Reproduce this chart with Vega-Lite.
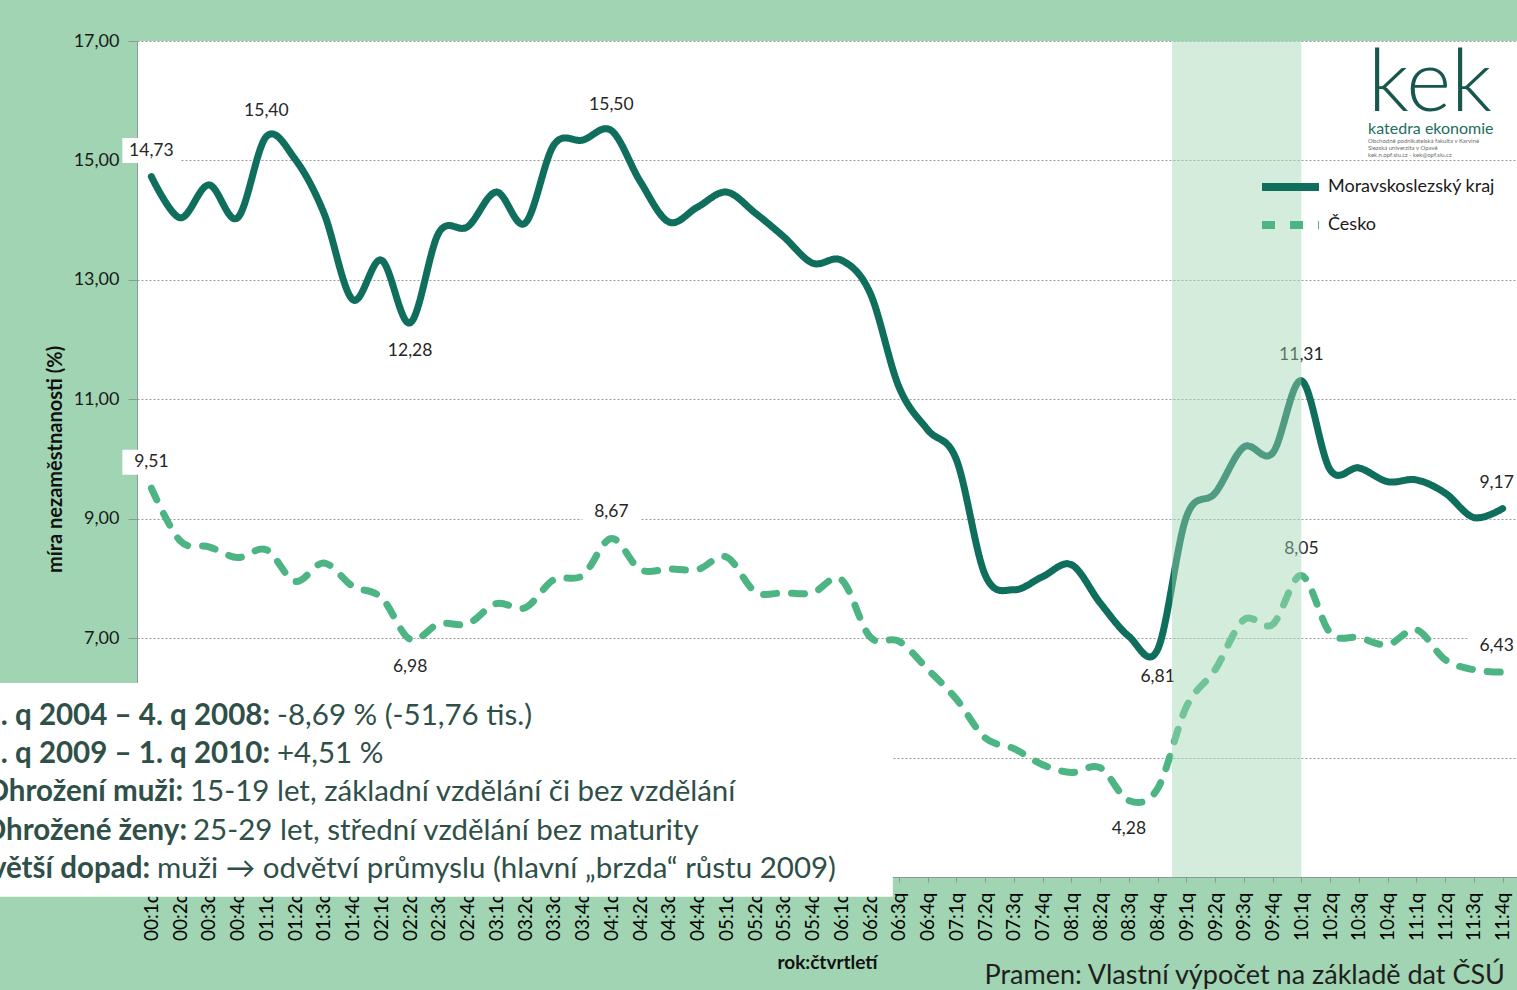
{
  "$schema": "https://vega.github.io/schema/vega-lite/v6.json",
  "width": 1380,
  "height": 836,
  "autosize": {"type": "none"},
  "padding": {"left": 137, "top": 41, "right": 0, "bottom": 113},
  "background": "#a0d4b2",
  "config": {
    "font": "Lato",
    "locale": {"number": {"decimal": ",", "thousands": " ", "grouping": [3], "currency": ["", " Kč"]}},
    "view": {"fill": "white", "stroke": null},
    "axis": {"zindex": 0},
    "axisX": {"labelOverlap": false, "labelSeparation": 0, "tickCount": 48},
    "legend": {"orient": "none", "legendX": 1121, "legendY": 136, "title": null, "symbolType": "stroke", "symbolSize": 3249, "symbolStrokeWidth": 8, "labelFontSize": 18, "labelColor": "#1a1a1a", "labelOffset": 5, "clipHeight": 20, "rowPadding": 18, "padding": 0, "labelLimit": 300}
  },
  "datasets": {
    "unemp": [
      {"i": 0, "series": "Moravskoslezský kraj", "rate": 14.73},
      {"i": 1, "series": "Moravskoslezský kraj", "rate": 14.04},
      {"i": 2, "series": "Moravskoslezský kraj", "rate": 14.59},
      {"i": 3, "series": "Moravskoslezský kraj", "rate": 14.04},
      {"i": 4, "series": "Moravskoslezský kraj", "rate": 15.40},
      {"i": 5, "series": "Moravskoslezský kraj", "rate": 15.02},
      {"i": 6, "series": "Moravskoslezský kraj", "rate": 14.12},
      {"i": 7, "series": "Moravskoslezský kraj", "rate": 12.67},
      {"i": 8, "series": "Moravskoslezský kraj", "rate": 13.33},
      {"i": 9, "series": "Moravskoslezský kraj", "rate": 12.28},
      {"i": 10, "series": "Moravskoslezský kraj", "rate": 13.79},
      {"i": 11, "series": "Moravskoslezský kraj", "rate": 13.89},
      {"i": 12, "series": "Moravskoslezský kraj", "rate": 14.47},
      {"i": 13, "series": "Moravskoslezský kraj", "rate": 13.95},
      {"i": 14, "series": "Moravskoslezský kraj", "rate": 15.26},
      {"i": 15, "series": "Moravskoslezský kraj", "rate": 15.34},
      {"i": 16, "series": "Moravskoslezský kraj", "rate": 15.50},
      {"i": 17, "series": "Moravskoslezský kraj", "rate": 14.65},
      {"i": 18, "series": "Moravskoslezský kraj", "rate": 13.97},
      {"i": 19, "series": "Moravskoslezský kraj", "rate": 14.22},
      {"i": 20, "series": "Moravskoslezský kraj", "rate": 14.47},
      {"i": 21, "series": "Moravskoslezský kraj", "rate": 14.12},
      {"i": 22, "series": "Moravskoslezský kraj", "rate": 13.72},
      {"i": 23, "series": "Moravskoslezský kraj", "rate": 13.28},
      {"i": 24, "series": "Moravskoslezský kraj", "rate": 13.33},
      {"i": 25, "series": "Moravskoslezský kraj", "rate": 12.78},
      {"i": 26, "series": "Moravskoslezský kraj", "rate": 11.21},
      {"i": 27, "series": "Moravskoslezský kraj", "rate": 10.49},
      {"i": 28, "series": "Moravskoslezský kraj", "rate": 9.99},
      {"i": 29, "series": "Moravskoslezský kraj", "rate": 8.06},
      {"i": 30, "series": "Moravskoslezský kraj", "rate": 7.81},
      {"i": 31, "series": "Moravskoslezský kraj", "rate": 8.03},
      {"i": 32, "series": "Moravskoslezský kraj", "rate": 8.23},
      {"i": 33, "series": "Moravskoslezský kraj", "rate": 7.59},
      {"i": 34, "series": "Moravskoslezský kraj", "rate": 7.03},
      {"i": 35, "series": "Moravskoslezský kraj", "rate": 6.81},
      {"i": 36, "series": "Moravskoslezský kraj", "rate": 9.03},
      {"i": 37, "series": "Moravskoslezský kraj", "rate": 9.43},
      {"i": 38, "series": "Moravskoslezský kraj", "rate": 10.20},
      {"i": 39, "series": "Moravskoslezský kraj", "rate": 10.10},
      {"i": 40, "series": "Moravskoslezský kraj", "rate": 11.31},
      {"i": 41, "series": "Moravskoslezský kraj", "rate": 9.82},
      {"i": 42, "series": "Moravskoslezský kraj", "rate": 9.85},
      {"i": 43, "series": "Moravskoslezský kraj", "rate": 9.62},
      {"i": 44, "series": "Moravskoslezský kraj", "rate": 9.65},
      {"i": 45, "series": "Moravskoslezský kraj", "rate": 9.43},
      {"i": 46, "series": "Moravskoslezský kraj", "rate": 9.02},
      {"i": 47, "series": "Moravskoslezský kraj", "rate": 9.17},
      {"i": 0, "series": "Česko", "rate": 9.51},
      {"i": 1, "series": "Česko", "rate": 8.63},
      {"i": 2, "series": "Česko", "rate": 8.53},
      {"i": 3, "series": "Česko", "rate": 8.35},
      {"i": 4, "series": "Česko", "rate": 8.48},
      {"i": 5, "series": "Česko", "rate": 7.95},
      {"i": 6, "series": "Česko", "rate": 8.26},
      {"i": 7, "series": "Česko", "rate": 7.87},
      {"i": 8, "series": "Česko", "rate": 7.68},
      {"i": 9, "series": "Česko", "rate": 6.98},
      {"i": 10, "series": "Česko", "rate": 7.24},
      {"i": 11, "series": "Česko", "rate": 7.24},
      {"i": 12, "series": "Česko", "rate": 7.58},
      {"i": 13, "series": "Česko", "rate": 7.51},
      {"i": 14, "series": "Česko", "rate": 7.98},
      {"i": 15, "series": "Česko", "rate": 8.05},
      {"i": 16, "series": "Česko", "rate": 8.67},
      {"i": 17, "series": "Česko", "rate": 8.15},
      {"i": 18, "series": "Česko", "rate": 8.16},
      {"i": 19, "series": "Česko", "rate": 8.15},
      {"i": 20, "series": "Česko", "rate": 8.36},
      {"i": 21, "series": "Česko", "rate": 7.78},
      {"i": 22, "series": "Česko", "rate": 7.76},
      {"i": 23, "series": "Česko", "rate": 7.76},
      {"i": 24, "series": "Česko", "rate": 7.98},
      {"i": 25, "series": "Česko", "rate": 7.02},
      {"i": 26, "series": "Česko", "rate": 6.95},
      {"i": 27, "series": "Česko", "rate": 6.48},
      {"i": 28, "series": "Česko", "rate": 5.98},
      {"i": 29, "series": "Česko", "rate": 5.33},
      {"i": 30, "series": "Česko", "rate": 5.15},
      {"i": 31, "series": "Česko", "rate": 4.88},
      {"i": 32, "series": "Česko", "rate": 4.75},
      {"i": 33, "series": "Česko", "rate": 4.83},
      {"i": 34, "series": "Česko", "rate": 4.28},
      {"i": 35, "series": "Česko", "rate": 4.48},
      {"i": 36, "series": "Česko", "rate": 5.85},
      {"i": 37, "series": "Česko", "rate": 6.47},
      {"i": 38, "series": "Česko", "rate": 7.31},
      {"i": 39, "series": "Česko", "rate": 7.23},
      {"i": 40, "series": "Česko", "rate": 8.05},
      {"i": 41, "series": "Česko", "rate": 7.09},
      {"i": 42, "series": "Česko", "rate": 7.01},
      {"i": 43, "series": "Česko", "rate": 6.89},
      {"i": 44, "series": "Česko", "rate": 7.14},
      {"i": 45, "series": "Česko", "rate": 6.64},
      {"i": 46, "series": "Česko", "rate": 6.47},
      {"i": 47, "series": "Česko", "rate": 6.43}
    ],
    "notes": [
      {"bold": "1. q 2004 – 4. q 2008:", "rest": "-8,69 % (-51,76 tis.)", "xb": 4.126, "xr": 4.37, "y": 5.703},
      {"bold": "1. q 2009 – 1. q 2010:", "rest": "+4,51 %", "xb": 4.126, "xr": 4.37, "y": 5.067},
      {"bold": "Ohrožení muži:", "rest": "15-19 let, základní vzdělání či bez vzdělání", "xb": 1.1, "xr": 1.343, "y": 4.431},
      {"bold": "Ohrožené ženy:", "rest": "25-29 let, střední vzdělání bez maturity", "xb": 1.239, "xr": 1.448, "y": 3.778},
      {"bold": "Největší dopad:", "rest": "muži → odvětví průmyslu (hlavní „brzda“ růstu 2009)", "xb": -0.048, "xr": 0.196, "y": 3.142}
    ]
  },
  "data": {"name": "unemp"},
  "layer": [
    {
      "mark": {"type": "line", "strokeWidth": 7, "strokeCap": "round", "strokeJoin": "round", "interpolate": "cardinal"},
      "encoding": {
        "x": {
          "field": "i", "type": "quantitative",
          "scale": {"domain": [-0.5, 47.5], "nice": false, "zero": false},
          "axis": {
            "values": [0,1,2,3,4,5,6,7,8,9,10,11,12,13,14,15,16,17,18,19,20,21,22,23,24,25,26,27,28,29,30,31,32,33,34,35,36,37,38,39,40,41,42,43,44,45,46,47],
            "tickCount": 48,
            "labelExpr": "(datum.value < 40 ? '0' : '') + floor(datum.value / 4) + ':' + (datum.value % 4 + 1) + 'q'",
            "labelAngle": 270, "labelFontSize": 19, "labelColor": "#000000", "labelPadding": 10,
            "labelOverlap": false, "labelSeparation": 0, "labelFlush": false, "labelBound": false,
            "tickSize": 5, "tickColor": "#8a9a94", "domainColor": "#8a9a94", "grid": false,
            "title": "rok:čtvrtletí", "titleFontSize": 19, "titleFontWeight": "bold", "titleColor": "#111111",
            "titleX": 690, "titleY": 85, "titleAlign": "center", "titleBaseline": "middle"
          }
        },
        "y": {
          "field": "rate", "type": "quantitative",
          "scale": {"domain": [3, 17], "nice": false, "zero": false},
          "axis": {
            "values": [3, 5, 7, 9, 11, 13, 15, 17], "format": ".2f",
            "labelExpr": "datum.value < 6 ? '' : datum.label",
            "labelFontSize": 18, "labelColor": "#1a1a1a", "labelPadding": 9,
            "tickSize": 9, "tickColor": "#8a9a94", "domainColor": "#8a9a94",
            "grid": true, "gridDash": [2, 2], "gridColor": "#9a9a9a",
            "title": "míra nezaměstnanosti (%)", "titleFontSize": 20, "titleFontWeight": "bold", "titleColor": "#111111",
            "titleAngle": 270, "titleX": -82, "titleY": 418, "titleAlign": "center", "titleBaseline": "middle"
          }
        },
        "color": {
          "field": "series", "type": "nominal",
          "scale": {"domain": ["Moravskoslezský kraj", "Česko"], "range": ["#0f6e5c", "#4cb583"]}
        },
        "strokeDash": {
          "field": "series", "type": "nominal",
          "scale": {"domain": ["Moravskoslezský kraj", "Česko"], "range": [[1, 0], [13, 15]]}
        }
      }
    },
    {
      "transform": [{"filter": {"or": [
        {"and": [{"field": "series", "equal": "Moravskoslezský kraj"}, {"field": "i", "oneOf": [0, 4, 16, 40]}]},
        {"and": [{"field": "series", "equal": "Česko"}, {"field": "i", "oneOf": [0, 16, 40]}]}
      ]}}],
      "mark": {"type": "point", "shape": "M-1,-0.43H1V0.43H-1Z", "size": 3364, "filled": true, "color": "white", "opacity": 1, "yOffset": -26},
      "encoding": {
        "x": {"field": "i", "type": "quantitative"},
        "y": {"field": "rate", "type": "quantitative"}
      }
    },
    {
      "transform": [{"filter": {"field": "i", "equal": 47}}],
      "mark": {"type": "point", "shape": "M-1,-0.43H1V0.43H-1Z", "size": 3364, "filled": true, "color": "white", "opacity": 1, "yOffset": -26, "xOffset": -6},
      "encoding": {
        "x": {"field": "i", "type": "quantitative"},
        "y": {"field": "rate", "type": "quantitative"}
      }
    },
    {
      "transform": [{"filter": {"or": [
        {"and": [{"field": "series", "equal": "Moravskoslezský kraj"}, {"field": "i", "oneOf": [9, 35]}]},
        {"and": [{"field": "series", "equal": "Česko"}, {"field": "i", "oneOf": [9, 34]}]}
      ]}}],
      "mark": {"type": "point", "shape": "M-1,-0.43H1V0.43H-1Z", "size": 3364, "filled": true, "color": "white", "opacity": 1, "yOffset": 28},
      "encoding": {
        "x": {"field": "i", "type": "quantitative"},
        "y": {"field": "rate", "type": "quantitative"}
      }
    },
    {
      "transform": [{"filter": {"or": [
        {"and": [{"field": "series", "equal": "Moravskoslezský kraj"}, {"field": "i", "oneOf": [0, 4, 16, 40]}]},
        {"and": [{"field": "series", "equal": "Česko"}, {"field": "i", "oneOf": [0, 16, 40]}]}
      ]}}],
      "mark": {"type": "text", "dy": -26, "fontSize": 17.5, "color": "#262626", "baseline": "middle", "align": "center"},
      "encoding": {
        "x": {"field": "i", "type": "quantitative"},
        "y": {"field": "rate", "type": "quantitative"},
        "text": {"field": "rate", "type": "quantitative", "format": ".2f"}
      }
    },
    {
      "transform": [{"filter": {"field": "i", "equal": 47}}],
      "mark": {"type": "text", "dy": -26, "dx": -6, "fontSize": 17.5, "color": "#262626", "baseline": "middle", "align": "center"},
      "encoding": {
        "x": {"field": "i", "type": "quantitative"},
        "y": {"field": "rate", "type": "quantitative"},
        "text": {"field": "rate", "type": "quantitative", "format": ".2f"}
      }
    },
    {
      "transform": [{"filter": {"or": [
        {"and": [{"field": "series", "equal": "Moravskoslezský kraj"}, {"field": "i", "oneOf": [9, 35]}]},
        {"and": [{"field": "series", "equal": "Česko"}, {"field": "i", "oneOf": [9, 34]}]}
      ]}}],
      "mark": {"type": "text", "dy": 28, "fontSize": 17.5, "color": "#262626", "baseline": "middle", "align": "center"},
      "encoding": {
        "x": {"field": "i", "type": "quantitative"},
        "y": {"field": "rate", "type": "quantitative"},
        "text": {"field": "rate", "type": "quantitative", "format": ".2f"}
      }
    },
    {
      "data": {"values": [{"start": 35.5, "end": 40}]},
      "mark": {"type": "rect", "color": "#a0d4b2", "opacity": 0.45},
      "encoding": {
        "x": {"field": "start", "type": "quantitative"},
        "x2": {"field": "end"}
      }
    },
    {
      "data": {"values": [{"x0": -5.3, "x1": 25.79, "y0": 6.25, "y1": 2.67}]},
      "mark": {"type": "rect", "color": "white", "opacity": 1},
      "encoding": {
        "x": {"field": "x0", "type": "quantitative"},
        "x2": {"field": "x1"},
        "y": {"field": "y0", "type": "quantitative"},
        "y2": {"field": "y1"}
      }
    },
    {
      "data": {"name": "notes"},
      "mark": {"type": "text", "align": "right", "baseline": "middle", "fontSize": 29.5, "fontWeight": "bold", "color": "#2f5049"},
      "encoding": {
        "x": {"field": "xb", "type": "quantitative"},
        "y": {"field": "y", "type": "quantitative"},
        "text": {"field": "bold"}
      }
    },
    {
      "data": {"name": "notes"},
      "mark": {"type": "text", "align": "left", "baseline": "middle", "fontSize": 29.5, "color": "#2f5049"},
      "encoding": {
        "x": {"field": "xr", "type": "quantitative"},
        "y": {"field": "y", "type": "quantitative"},
        "text": {"field": "rest"}
      }
    },
    {
      "data": {"values": [{"t": "kek", "x": 42.32, "y": 15.83}]},
      "mark": {"type": "text", "align": "left", "baseline": "alphabetic", "fontSize": 86, "fontWeight": 300, "color": "#17574d"},
      "encoding": {
        "x": {"field": "x", "type": "quantitative"},
        "y": {"field": "y", "type": "quantitative"},
        "text": {"field": "t"}
      }
    },
    {
      "data": {"values": [{"t": "katedra ekonomie", "x": 42.32, "y": 15.53}]},
      "mark": {"type": "text", "align": "left", "baseline": "middle", "fontSize": 16, "color": "#1e6e60"},
      "encoding": {
        "x": {"field": "x", "type": "quantitative"},
        "y": {"field": "y", "type": "quantitative"},
        "text": {"field": "t"}
      }
    },
    {
      "data": {"values": [
        {"t": "Obchodně podnikatelská fakulta v Karviné", "x": 42.32, "y": 15.326},
        {"t": "Slezská univerzita v Opavě", "x": 42.32, "y": 15.209},
        {"t": "kek.n.opf.slu.cz - kek@opf.slu.cz", "x": 42.32, "y": 15.092}
      ]},
      "mark": {"type": "text", "align": "left", "baseline": "middle", "fontSize": 6, "color": "#6b6b6b"},
      "encoding": {
        "x": {"field": "x", "type": "quantitative"},
        "y": {"field": "y", "type": "quantitative"},
        "text": {"field": "t"}
      }
    },
    {
      "data": {"values": [{"t": "Pramen: Vlastní výpočet na základě dat ČSÚ", "x": 47.08, "y": 1.35}]},
      "mark": {"type": "text", "align": "right", "baseline": "middle", "fontSize": 27, "color": "#1f1f1f"},
      "encoding": {
        "x": {"field": "x", "type": "quantitative"},
        "y": {"field": "y", "type": "quantitative"},
        "text": {"field": "t"}
      }
    }
  ]
}
